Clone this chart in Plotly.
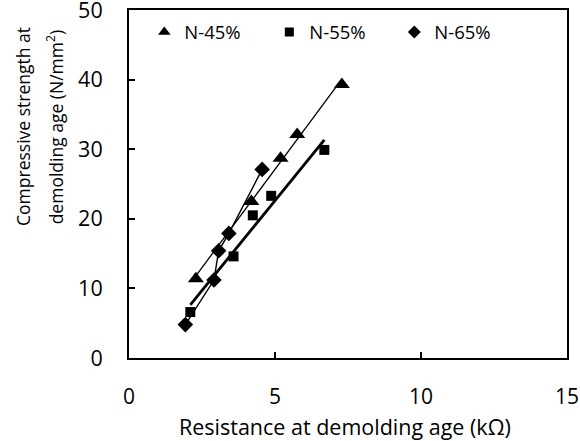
import numpy as np
import plotly.graph_objects as go

# Data
x45 = [2.29, 4.19, 5.19, 5.76, 7.29]
y45 = [11.4, 22.5, 28.7, 32.1, 39.3]
x55 = [2.10, 3.58, 4.24, 4.87, 6.69]
y55 = [6.6, 14.6, 20.5, 23.3, 29.9]
x65 = [1.93, 2.91, 3.07, 3.42, 4.56]
y65 = [4.8, 11.2, 15.4, 17.9, 27.1]
names = ["N-45%", "N-55%", "N-65%"]
xticks = [0, 5, 10, 15]
yticks = [0, 10, 20, 30, 40, 50]
xtitle = "Resistance at demolding age (kΩ)"
ytitle = ["Compressive strength at", "demolding age (N/mm<sup>2</sup>)"]

FONT = "Open Sans"
fig = go.Figure()

def trend(xs, ys):
    m, b = np.polyfit(xs, ys, 1)
    xx = np.array([min(xs), max(xs)])
    return xx, m * xx + b

# N-45%: linear trend line + triangles
tx, ty = trend(x45, y45)
fig.add_trace(go.Scatter(x=tx, y=ty, mode="lines", line=dict(color="black", width=1.3),
                         showlegend=False, hoverinfo="skip"))
fig.add_trace(go.Scatter(x=x45, y=y45, mode="markers", name=names[0],
                         marker=dict(symbol="triangle-up", size=14, color="black"), showlegend=False))
# N-55%: thick trend line + squares
tx, ty = trend(x55, y55)
fig.add_trace(go.Scatter(x=tx, y=ty, mode="lines", line=dict(color="black", width=2.8),
                         showlegend=False, hoverinfo="skip"))
fig.add_trace(go.Scatter(x=x55, y=y55, mode="markers", name=names[1],
                         marker=dict(symbol="square", size=10, color="black"), showlegend=False))
# N-65%: connected diamonds
fig.add_trace(go.Scatter(x=x65, y=y65, mode="lines+markers", name=names[2],
                         line=dict(color="black", width=1.4),
                         marker=dict(symbol="diamond", size=12, color="black"), showlegend=False))

# legend-only entries
for nm, sym, sz in zip(names, ["triangle-up", "square", "diamond"], [11, 9, 10]):
    fig.add_trace(go.Scatter(x=[None], y=[None], mode="markers", name=nm,
                             marker=dict(symbol=sym, size=sz, color="black")))

axis_common = dict(showline=True, linecolor="black", linewidth=2, mirror=True,
                   ticks="inside", ticklen=6, tickwidth=1.5, tickcolor="black",
                   showgrid=False, zeroline=False, ticklabeloverflow="allow",
                   automargin=False)

fig.update_xaxes(range=[0, 15], tickvals=xticks, ticklabelstandoff=19,
                 tickfont=dict(family=FONT, size=21, color="black"), **axis_common)
fig.update_yaxes(range=[0, 50], tickvals=yticks, ticklabelstandoff=20,
                 tickfont=dict(family=FONT, size=21.5, color="black"), **axis_common)

fig.add_annotation(text=xtitle, xref="paper", yref="paper", x=0.493, y=-0.1965,
                   xanchor="center", yanchor="middle", showarrow=False,
                   font=dict(family=FONT, size=21.5, color="black"))
for txt, xp in zip(ytitle, [-0.242, -0.168]):
    fig.add_annotation(text=txt, textangle=-90, xref="paper", yref="paper", x=xp, y=0.664,
                       xanchor="center", yanchor="middle", showarrow=False,
                       font=dict(family=FONT, size=17.5, color="black"))

fig.update_layout(
    width=580, height=441,
    margin=dict(l=129, r=13, t=10, b=83),
    plot_bgcolor="white", paper_bgcolor="white",
    font=dict(family=FONT, size=19, color="black"),
    legend=dict(orientation="h", x=0.035, y=0.99, xanchor="left", yanchor="top",
                bgcolor="rgba(0,0,0,0)", entrywidth=80, entrywidthmode="pixels",
                font=dict(family=FONT, size=18.5, color="black"), itemwidth=30),
)

fig.write_html("out.html")
